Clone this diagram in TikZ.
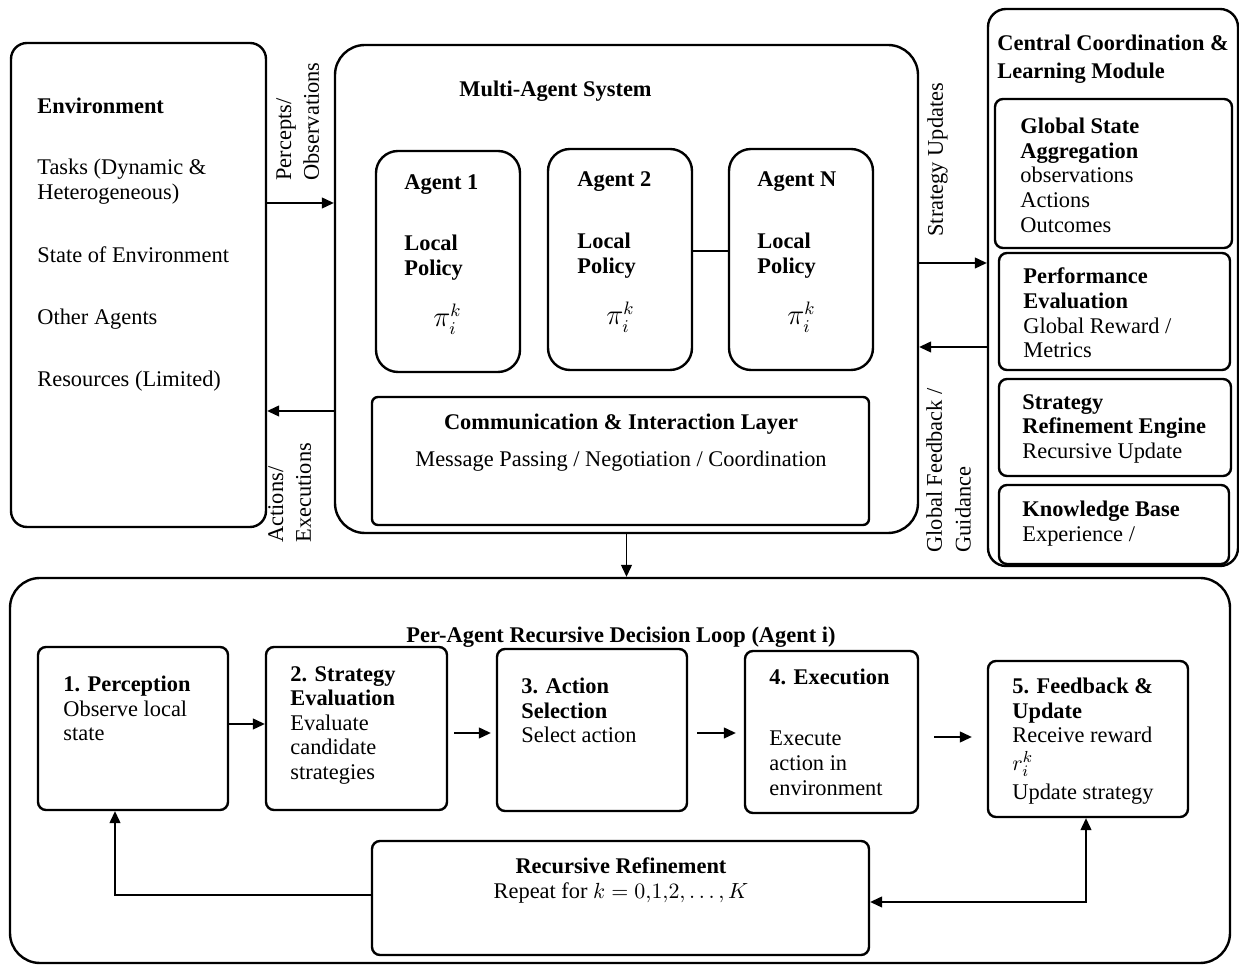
\documentclass[tikz,border=0pt]{standalone}
\usepackage{fontspec}
\setmainfont{Liberation Serif}
\usepackage{tikz}
\usetikzlibrary{arrows.meta}

\tikzset{
	panel/.style={draw, line width=1.2pt, rounded corners=#1, inner sep=0pt},
	panel/.default=4pt,
	txt/.style={anchor=base west, align=left, inner sep=0pt},
	mtxt/.style={anchor=north west, align=left, inner sep=0pt, execute at begin node=\strut},
	ctxt/.style={anchor=base, align=center, inner sep=0pt},
	mctxt/.style={anchor=north, align=center, inner sep=0pt, execute at begin node=\strut},
	vlbl/.style={rotate=90, anchor=north west, align=left, inner sep=0pt},
	arr/.style={line width=0.6pt, -{Triangle[length=6pt,width=5.5pt]}},
	darr/.style={line width=0.6pt, {Triangle[length=6pt,width=5.5pt]}-{Triangle[length=6pt,width=5.5pt]}},
}
\newcommand{\policy}{{\fontsize{13.5}{14}\selectfont$\pi_i^k$}}

\begin{document}
\begin{tikzpicture}[x=0.5pt, y=-0.5pt, font=\fontsize{11.2}{12.3}\selectfont]
	\useasboundingbox (0,0) rectangle (1239,967);
	% boxes
	\node[panel=8pt, minimum width=127.5pt, minimum height=242pt] at (138.5,285) (env) {};
	\node[panel=15pt, minimum width=291.5pt, minimum height=244pt] at (626.5,289) (mas) {};
	\node[panel=11pt, minimum width=72pt, minimum height=110.5pt] at (448,261.5) (ag1) {};
	\node[panel=11pt, minimum width=72pt, minimum height=110.5pt] at (620,259.5) (ag2) {};
	\node[panel=11pt, minimum width=72pt, minimum height=110.5pt] at (801,259.5) (agN) {};
	\node[panel=3pt, minimum width=248.5pt, minimum height=64pt] at (620.5,461) (comm) {};
	\node[panel=9pt, minimum width=125pt, minimum height=278.5pt] at (1113,287.5) (cclm) {};
	\node[panel, minimum width=118.5pt, minimum height=74.5pt] at (1113.5,173.5) (gsa) {};
	\node[panel, minimum width=115.5pt, minimum height=58.5pt] at (1114.5,311.5) (perf) {};
	\node[panel, minimum width=116pt, minimum height=48.5pt] at (1115,427.5) (sre) {};
	\node[panel, minimum width=115pt, minimum height=39.5pt] at (1114,524.5) (kb) {};
	\node[panel=15pt, minimum width=610pt, minimum height=192.5pt] at (620,770.5) (loop) {};
	\node[panel, minimum width=95pt, minimum height=81.5pt] at (133,728.5) (s1) {};
	\node[panel, minimum width=90.5pt, minimum height=81.5pt] at (356.5,728.5) (s2) {};
	\node[panel, minimum width=95pt, minimum height=81pt] at (592,730) (s3) {};
	\node[panel, minimum width=86.5pt, minimum height=81pt] at (831.5,732) (s4) {};
	\node[panel, minimum width=100pt, minimum height=78pt] at (1088,739) (s5) {};
	\node[panel, minimum width=248.5pt, minimum height=57pt] at (620.5,898) (rr) {};

	% texts
	\node[txt] at (37,114) (envt) {\textbf{Environment}};
	\node[mtxt] at (37,158.8) (tasks) {Tasks (Dynamic \&\\Heterogeneous)};
	\node[txt] at (37,263) (state) {State of Environment};
	\node[txt] at (37,325) (others) {Other Agents};
	\node[txt] at (37,387) (res) {Resources (Limited)};
	\node[txt] at (459,97) (mast) {\textbf{Multi-Agent System}};
	\node[txt] at (404,190) (ag1t) {\textbf{Agent 1}};
	\node[mtxt] at (404,234.8) (ag1p) {\textbf{Local}\\\textbf{Policy}};
	\node[txt] at (433,327) (ag1pi) {\policy};
	\node[txt] at (577,187) (ag2t) {\textbf{Agent 2}};
	\node[mtxt] at (577,232.8) (ag2p) {\textbf{Local}\\\textbf{Policy}};
	\node[txt] at (606,325) (ag2pi) {\policy};
	\node[txt] at (757,187) (agNt) {\textbf{Agent N}};
	\node[mtxt] at (757,232.8) (agNp) {\textbf{Local}\\\textbf{Policy}};
	\node[txt] at (787,325) (agNpi) {\policy};
	\node[ctxt] at (621,430) (commt) {\textbf{Communication \& Interaction Layer}};
	\node[ctxt] at (621,467) (commm) {Message Passing / Negotiation / Coordination};
	\node[mtxt] at (997,34.8) (cclmt) {\textbf{Central Coordination \&}\\[1.8pt]\textbf{Learning Module}};
	\node[mtxt] at (1020,117.8) (gsat) {\textbf{Global State}\\\textbf{Aggregation}\\observations\\Actions\\Outcomes};
	\node[mtxt] at (1023,267.8) (perft) {\textbf{Performance}\\\textbf{Evaluation}\\Global Reward /\\Metrics};
	\node[mtxt] at (1022,393.8) (sret) {\textbf{Strategy}\\\textbf{Refinement Engine}\\Recursive Update};
	\node[mtxt] at (1022,500.8) (kbt) {\textbf{Knowledge Base}\\Experience /};
	\node[ctxt] at (621,643) (loopt) {\textbf{Per-Agent Recursive Decision Loop (Agent i)}};
	\node[mtxt] at (63,675.8) (s1t) {\textbf{1. Perception}\\Observe local\\state};
	\node[mtxt] at (290,665.8) (s2t) {\textbf{2. Strategy}\\\textbf{Evaluation}\\Evaluate\\candidate\\strategies};
	\node[mtxt] at (521,677.8) (s3t) {\textbf{3. Action}\\\textbf{Selection}\\Select action};
	\node[txt] at (769,685) (s4t) {\textbf{4. Execution}};
	\node[mtxt] at (769,730.8) (s4d) {Execute\\action in\\environment};
	\node[mtxt] at (1012,677.8) (s5t) {\textbf{5. Feedback \&}\\\textbf{Update}\\Receive reward\\[1.5pt]$r_i^k$\\[2pt]Update strategy};
	\node[mctxt] at (621,857.8) (rrt) {\textbf{Recursive Refinement}\\Repeat for $k=0{,}1{,}2,\dots,K$};
	\node[vlbl] at (276,181) (percl) {Percepts/\\[1.5pt]Observations};
	\node[vlbl] at (268,543) (actl) {Actions/\\[1.5pt]Executions};
	\node[vlbl] at (927,237) (stratl) {Strategy Updates};
	\node[vlbl] at (926,553) (fbl) {Global Feedback /\\[2pt]Guidance};

	% connectors
	\draw[arr] ([yshift=41pt]env.east) -- ([yshift=43pt]mas.west);
	\draw[arr] ([yshift=-61pt]mas.west) -- ([yshift=-63pt]env.east);
	\draw[arr] ([yshift=13pt]mas.east) -- ([yshift=12.25pt]cclm.west);
	\draw[arr] ([yshift=-29.75pt]cclm.west) -- ([yshift=-29pt]mas.east);
	\draw[arr] (mas.south) -- (mas.south |- loop.north);
	\draw[line width=0.6pt] ([yshift=4.25pt]ag2.east) -- ([yshift=4.25pt]agN.west);
	\draw[arr] ([yshift=2.25pt]s1.east) -- ([yshift=2.25pt]s2.west);
	\draw[arr, shorten <=3pt, shorten >=2.5pt] ([yshift=-2.25pt]s2.east) -- ([yshift=-1.5pt]s3.west);
	\draw[arr, shorten <=4.5pt, shorten >=4pt] ([yshift=-1.5pt]s3.east) -- ([yshift=-0.5pt]s4.west);
	\draw[arr, shorten <=7.5pt, shorten >=7.5pt] ([yshift=-2.5pt]s4.east) -- ([yshift=1pt]s5.west);
	\draw[arr] ([yshift=1.5pt]rr.west) -| ([xshift=-9pt]s1.south);
	\draw[darr] ([yshift=-2pt]rr.east) -| ([xshift=-1pt]s5.south);
\end{tikzpicture}
\end{document}
